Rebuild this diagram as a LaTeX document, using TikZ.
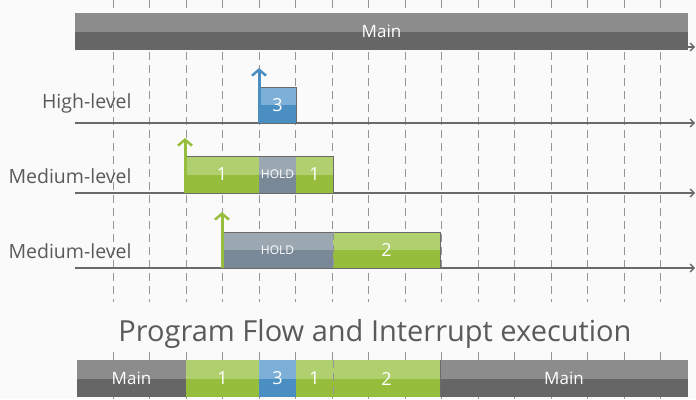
\documentclass[tikz,border=0pt]{standalone}
\usepackage{fontspec}
\setmainfont{Open Sans}
\usetikzlibrary{arrows.meta}
\definecolor{grnL}{HTML}{B0D070}
\definecolor{grnD}{HTML}{96BE3C}
\definecolor{bluL}{HTML}{7DB0D8}
\definecolor{bluD}{HTML}{4A8EC2}
\definecolor{gryL}{HTML}{9BA8B2}
\definecolor{gryD}{HTML}{7A8997}
\definecolor{mnL}{HTML}{8C8C8C}
\definecolor{mnD}{HTML}{666666}
\definecolor{txt}{HTML}{5A5A5A}
\definecolor{axis}{HTML}{6A6A6A}
\definecolor{dsh}{HTML}{959595}
\definecolor{bg}{HTML}{FAFAFA}
\tikzset{
  twotone/.style 2 args={fill=#2, path picture={\fill[#1] (path picture bounding box.north west) rectangle (path picture bounding box.east);}},
  seg/.style={anchor=north west, inner sep=0pt, outer sep=0pt, minimum height=37pt, text=white, font=\fontsize{18}{18}\selectfont},
  grn/.style={seg, twotone={grnL}{grnD}},
  blu/.style={seg, twotone={bluL}{bluD}},
  hold/.style={seg, twotone={gryL}{gryD}, font=\fontsize{12}{12}\selectfont},
  mainbar/.style={seg, twotone={mnL}{mnD}, font=\fontsize{17}{17}\selectfont},
  outl/.style={draw=axis, line width=0.8pt},
  axisline/.style={draw=axis, line width=1.4pt, -{Straight Barb[length=4pt,width=8pt,line width=1.3pt]}},
  grid/.style={draw=dsh, line width=1pt, dash pattern=on 8pt off 5pt},
  tick/.style={draw=dsh, line width=1pt},
  intarrow/.style={draw=#1, line width=3pt, -{Straight Barb[length=6pt,width=14pt,line width=2.5pt]}},
  lvl/.style={anchor=east, text=txt, font=\fontsize{19.5}{19.5}\selectfont},
}
\begin{document}
\begin{tikzpicture}[x=1pt,y=-1pt]
\fill[bg] (0,0) rectangle (696,399);
\useasboundingbox (0,0) rectangle (696,399);
% grid
\foreach \i in {0,...,15}{
  \pgfmathsetmacro{\xx}{113+36.53*\i}
  \draw[grid] (\xx,0) -- (\xx,302);
  \draw[tick] (\xx,352) -- (\xx,360);
  \draw[tick] (\xx,396) -- (\xx,399);
}
% main top bar
\node[mainbar, minimum width=613pt] (main) at (75,13) {Main};
\coordinate (mainE) at (695,47);
\draw[axisline] (688,47) -- (mainE);
% axes
\coordinate (a1s) at (75,123); \coordinate (a1e) at (695,123);
\coordinate (a2s) at (75,193); \coordinate (a2e) at (695,193);
\coordinate (a3s) at (75,268); \coordinate (a3e) at (695,268);
\draw[axisline] (a1s) -- (a1e);
\draw[axisline] (a2s) -- (a2e);
\draw[axisline] (a3s) -- (a3e);
% labels
\node[lvl] (lh) at (135,103) {High-level};
\node[lvl] (lm1) at (135,176) {Medium-level};
\node[lvl] (lm2) at (135,251) {Medium-level};
% high level
\node[blu, minimum width=37pt, minimum height=36pt] (h3) at (259,87) {3};
\draw[outl] (h3.south west) |- (h3.north east) -- (h3.south east);
\coordinate (h3top) at (259,68);
\draw[intarrow=bluD] (259,123) -- (h3top);
% medium 1
\node[grn, minimum width=74pt] (m1a) at (185,156) {1};
\node[hold, minimum width=37pt] (m1h) at (259,156) {HOLD};
\node[grn, minimum width=37pt] (m1b) at (296,156) {1};
\draw[outl] (m1a.north west) -- (m1b.north east) -- (m1b.south east);
\coordinate (m1top) at (185,138);
\draw[intarrow=grnD] (185,193) -- (m1top);
% medium 2
\node[hold, minimum width=111pt, minimum height=36pt] (m2h) at (222,232) {HOLD};
\node[grn, minimum width=107pt, minimum height=36pt] (m2) at (333,232) {2};
\draw[outl] (m2h.north west) -- (m2.north east) -- (m2.south east);
\draw[grid] (333,232) -- (333,268);
\coordinate (m2top) at (222,212);
\draw[intarrow=grnD] (222,268) -- (m2top);
% title
\node[text=txt, font=\fontsize{29}{29}\selectfont] (title) at (375,334) {Program Flow and Interrupt execution};
% bottom bar
\node[mainbar, minimum width=109pt] (b0) at (77,360) {Main};
\node[grn, minimum width=73pt] (b1) at (186,360) {1};
\node[blu, minimum width=37pt] (b3) at (259,360) {3};
\node[grn, minimum width=37pt] (b1b) at (296,360) {1};
\node[grn, minimum width=107pt] (b2) at (333,360) {2};
\node[mainbar, minimum width=248pt] (b4) at (440,360) {Main};
\draw[grid] (333,360) -- (333,397);
\draw[line width=0.8pt, draw=axis] (b2.north east) -- (b2.south east);
\end{tikzpicture}
\end{document}
